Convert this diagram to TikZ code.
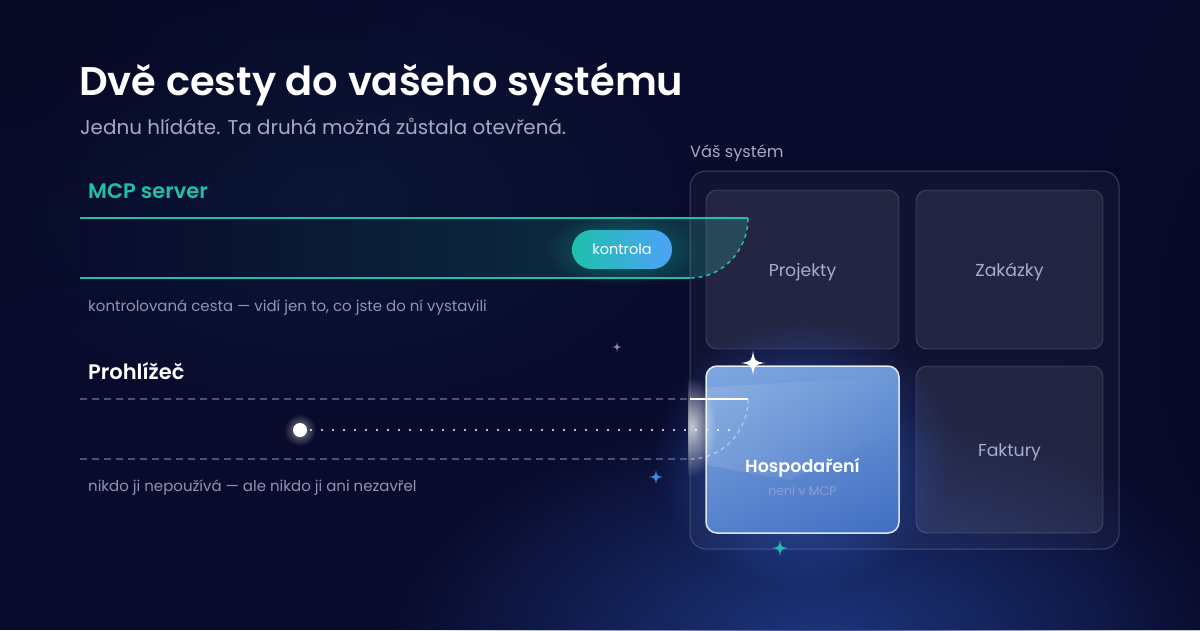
\documentclass[tikz,border=0pt]{standalone}
\usepackage{fontspec}
\setmainfont{Poppins}
\newfontfamily\semib{Poppins SemiBold}
\usetikzlibrary{fadings,shadings}
\definecolor{bgc}{HTML}{090B2C}
\definecolor{bgdark}{HTML}{060822}
\definecolor{bgteal}{HTML}{102442}
\definecolor{teal}{HTML}{1FBFAE}
\definecolor{tealband}{HTML}{0D3446}
\definecolor{pillL}{HTML}{1EC0AD}
\definecolor{pillR}{HTML}{4DA2F7}
\definecolor{subgray}{HTML}{A3A9C6}
\definecolor{smallgray}{HTML}{8E94B3}
\definecolor{dashgray}{HTML}{4C5275}
\definecolor{tilegray}{HTML}{A6AED0}
\definecolor{glowblue}{HTML}{1F3A86}
\definecolor{hglow}{HTML}{3264D2}
\definecolor{hUL}{HTML}{7EA8E0}
\definecolor{hUR}{HTML}{6E9AD9}
\definecolor{hLL}{HTML}{5681CD}
\definecolor{hLR}{HTML}{406DC2}
\definecolor{sparkblue}{HTML}{3D8EE8}
\definecolor{sparkgray}{HTML}{8088A8}
\definecolor{mcpsub}{HTML}{8DA0D0}
\tikzfading[name=softglow, inner color=transparent!0, outer color=transparent!100]
\tikzfading[name=fadeRight, left color=transparent!0, right color=transparent!100]
\tikzset{
  lbl/.style={inner sep=0pt, anchor=base west},
  ctr/.style={inner sep=0pt, anchor=base},
  tile/.style={fill=white, fill opacity=0.08, draw=white, draw opacity=0.17, line width=0.9pt, rounded corners=11pt},
  tilelbl/.style={ctr, text=tilegray, font=\fontsize{17.3}{20}\selectfont},
  sparkle/.pic={\fill (0,-1) .. controls (0.14,-0.14) .. (1,0) .. controls (0.14,0.14) .. (0,1) .. controls (-0.14,0.14) .. (-1,0) .. controls (-0.14,-0.14) .. (0,-1) -- cycle;},
}
\begin{document}
\begin{tikzpicture}[x=1pt,y=-1pt]
\useasboundingbox (0,0) rectangle (1200,630);
% background
\fill[bgc] (0,0) rectangle (1200,630);
\fill[bgdark, path fading=softglow, opacity=0.8] (0,0) ellipse (420pt and 330pt);
\fill[bgteal, path fading=softglow, opacity=0.45] (330,200) ellipse (380pt and 220pt);
\fill[glowblue, path fading=softglow, opacity=0.9] (820,640) ellipse (430pt and 230pt);
\fill[bgdark, path fading=softglow, opacity=0.6] (1230,330) ellipse (160pt and 420pt);

% MCP band
\coordinate (mA) at (80,218);
\coordinate (mB) at (748,218);
\coordinate (mC) at (690,278);
\coordinate (mD) at (80,278);
\shade[left color=bgc, right color=tealband] (mA) -- (mB) .. controls (748,251) and (722,278) .. (mC) -- (mD) -- cycle;

% container
\node[lbl, text=subgray, font=\fontsize{16.2}{19}\selectfont] (sysl) at (690,157) {Váš systém};
\draw[fill=white, fill opacity=0.035, draw=white, draw opacity=0.2, line width=1pt, rounded corners=16pt] (690,171) rectangle (1119,549);

% tiles
\path[tile] (706,190) rectangle (899,349);
\path[tile] (916,190) rectangle (1103,349);
\path[tile] (916,366) rectangle (1103,533);
\node[tilelbl] (proj) at (802.5,276) {Projekty};
\node[tilelbl] (zak) at (1009.5,276) {Zakázky};
\node[tilelbl] (fak) at (1009.5,456) {Faktury};

% Hospodareni glow and box
\fill[hglow, path fading=softglow, opacity=0.75] (803,455) ellipse (150pt and 135pt);
\shade[upper left=hUL, upper right=hUR, lower left=hLL, lower right=hLR, rounded corners=11pt] (706,366) rectangle (899,533);
\begin{scope}
\clip[rounded corners=11pt] (706,366) rectangle (899,533);
\fill[white, opacity=0.13, path fading=fadeRight] (700,388) -- (899,376) -- (899,430) -- (790,480) -- (700,464) -- cycle;
\end{scope}
\draw[white, draw opacity=0.85, line width=1.5pt, rounded corners=11pt] (706,366) rectangle (899,533);
\node[ctr, text=white, font=\semib\fontsize{17.5}{20}\selectfont] (hosp) at (802.5,472.5) {Hospodaření};
\node[ctr, text=mcpsub, font=\fontsize{12.5}{15}\selectfont] (nev) at (802.5,495) {není v MCP};
\begin{scope}
\clip (688,380) rectangle (760,480);
\fill[white, opacity=0.75, path fading=softglow] (692,427) ellipse (24pt and 50pt);
\end{scope}

% MCP lines
\draw[teal, line width=2.4pt] (mA) -- (mB);
\draw[teal, line width=2.4pt] (mD) -- (mC);
\draw[teal, line width=1.5pt, dash pattern=on 4pt off 4pt] (mB) .. controls (748,251) and (722,278) .. (mC);
\fill[teal, path fading=softglow, opacity=0.4] (622,249.5) ellipse (78pt and 38pt);
\node[inner sep=0pt, minimum width=100pt, minimum height=39pt, rounded corners=19.5pt, left color=pillL, right color=pillR, text=white, font=\fontsize{14.5}{17}\selectfont] (ctl) at (622,249.5) {kontrola};

% texts left
\node[lbl, text=white, font=\semib\fontsize{40}{46}\selectfont] (title) at (79,95) {Dvě cesty do vašeho systému};
\node[lbl, text=subgray, font=\fontsize{19.9}{24}\selectfont] (sub) at (80,134) {Jednu hlídáte. Ta druhá možná zůstala otevřená.};
\node[lbl, text=teal, font=\semib\fontsize{21}{24}\selectfont] (mcp) at (88,198) {MCP server};
\node[lbl, text=smallgray, font=\fontsize{15}{18}\selectfont] (mcpd) at (88,311) {kontrolovaná cesta — vidí jen to, co jste do ní vystavili};
\node[lbl, text=white, font=\semib\fontsize{21}{24}\selectfont] (pro) at (88,379) {Prohlížeč};
\node[lbl, text=smallgray, font=\fontsize{15}{18}\selectfont] (prod) at (88,491.5) {nikdo ji nepoužívá — ale nikdo ji ani nezavřel};

% browser path
\coordinate (bA) at (80,399);
\coordinate (bB) at (690,399);
\coordinate (bC) at (748,399);
\coordinate (bD) at (690,459);
\coordinate (bE) at (80,459);
\draw[dashgray, line width=1.4pt, dash pattern=on 7pt off 5pt] (bA) -- (bB);
\draw[dashgray, line width=1.4pt, dash pattern=on 7pt off 5pt] (bE) -- (bD);
\draw[white, line width=2.4pt] (bB) -- (bC);
\draw[white, opacity=0.45, line width=1.3pt, dash pattern=on 4pt off 4pt] (bC) .. controls (748,432) and (722,459) .. (bD);

\fill[white, path fading=softglow, opacity=0.5] (300,430) circle (16pt);
\node[circle, fill=white, inner sep=0pt, minimum size=14pt] (dot) at (300,430) {};
\coordinate (dotend) at (731,430);
\draw[white, line width=2.2pt, line cap=round, dash pattern=on 0pt off 11pt] ([xshift=11pt]dot.center) -- (dotend);

% sparkles
\path (753,363) pic[white, scale=12] {sparkle};
\path (656,477) pic[sparkblue, scale=7] {sparkle};
\path (780,548) pic[teal, scale=8] {sparkle};
\path (617,347) pic[sparkgray, scale=5] {sparkle};
\end{tikzpicture}
\end{document}
